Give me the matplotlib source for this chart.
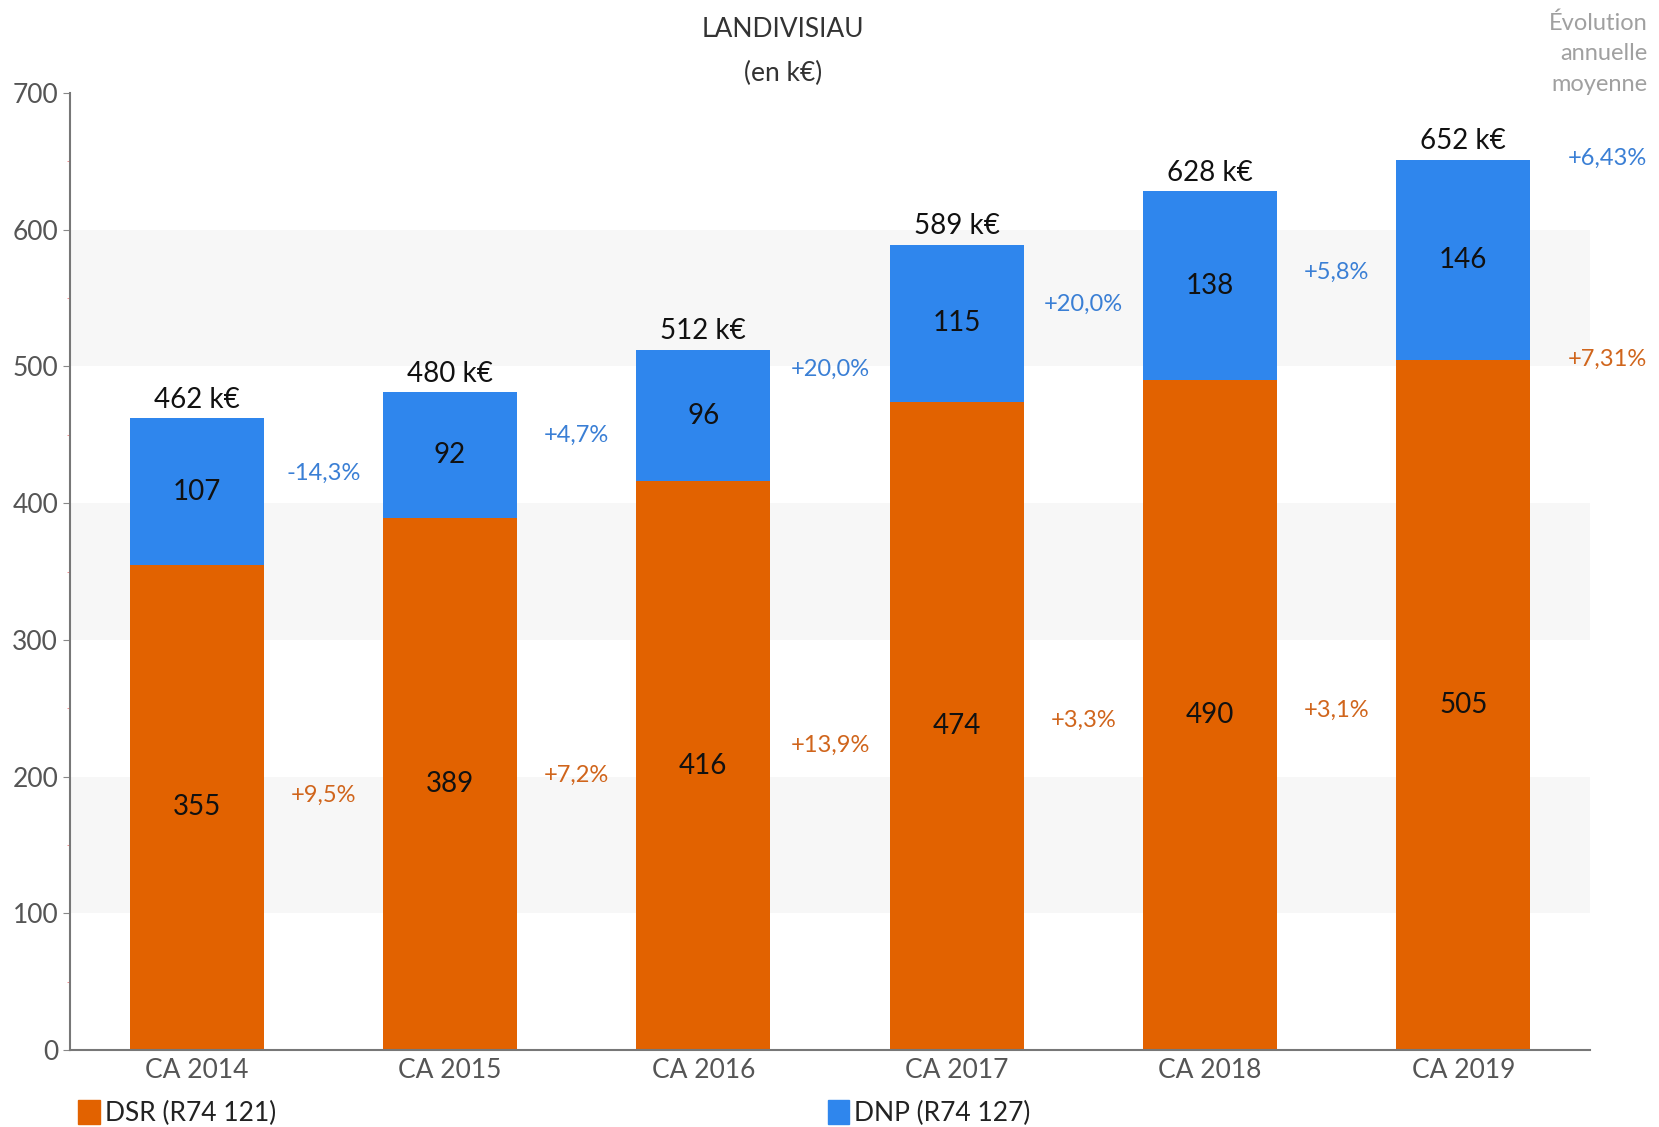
import matplotlib
matplotlib.use('Agg')
import matplotlib.pyplot as plt
from matplotlib.patches import Patch
from matplotlib.ticker import MultipleLocator
import numpy as np

# donnees (en k€)
categories = ['CA 2014', 'CA 2015', 'CA 2016', 'CA 2017', 'CA 2018', 'CA 2019']
dsr = [355, 389, 416, 474, 490, 505]
dnp = [107, 92, 96, 115, 138, 146]
totals = [462, 480, 512, 589, 628, 652]
evo_dnp = ['-14,3%', '+4,7%', '+20,0%', '+20,0%', '+5,8%']
evo_dsr = ['+9,5%', '+7,2%', '+13,9%', '+3,3%', '+3,1%']
moy_dnp = '+6,43%'
moy_dsr = '+7,31%'

orange = '#e26200'
blue = '#2f86ed'
txt_blue = '#3a7fd5'
txt_orange = '#d0651c'

plt.rcParams['font.family'] = ['Lato', 'DejaVu Sans']

fig = plt.figure(figsize=(16.59, 11.27), dpi=100)
ax = fig.add_axes([0.0422, 0.0683, 0.9162, 0.8492])

x = np.arange(len(categories))
w = 0.53

# bandes grises
for lo in (100, 300, 500):
    ax.axhspan(lo, lo + 100, color='#f7f7f7', zorder=0, lw=0)

ax.bar(x, dsr, w, color=orange, zorder=2, label='DSR (R74 121)')
ax.bar(x, dnp, w, bottom=dsr, color=blue, zorder=2, label='DNP (R74 127)')

for i in range(len(categories)):
    ax.text(x[i], dsr[i] / 2, str(dsr[i]), ha='center', va='center', fontsize=20, color='#111')
    ax.text(x[i], dsr[i] + dnp[i] / 2, str(dnp[i]), ha='center', va='center', fontsize=20, color='#111')
    ax.annotate(f'{totals[i]} k€', (x[i], dsr[i] + dnp[i]), xytext=(0, 4),
                textcoords='offset points', ha='center', va='bottom', fontsize=20, color='#111')

# evolutions entre annees
for i in range(len(categories) - 1):
    y_dnp = (dsr[i] + dnp[i] / 2 + dsr[i + 1] + dnp[i + 1] / 2) / 2
    y_dsr = (dsr[i] / 2 + dsr[i + 1] / 2) / 2
    ax.text(x[i] + 0.5, y_dnp, evo_dnp[i], ha='center', va='center', fontsize=17, color=txt_blue)
    ax.text(x[i] + 0.5, y_dsr, evo_dsr[i], ha='center', va='center', fontsize=17, color=txt_orange)

# evolution annuelle moyenne
ax.annotate(moy_dnp, (0.993, totals[-1]), xycoords=('figure fraction', 'data'), ha='right',
            va='center', fontsize=17, color=txt_blue, annotation_clip=False)
ax.annotate(moy_dsr, (0.993, dsr[-1]), xycoords=('figure fraction', 'data'), ha='right',
            va='center', fontsize=17, color=txt_orange, annotation_clip=False)
fig.text(0.993, 0.989, 'Évolution\nannuelle\nmoyenne', ha='right', va='top', fontsize=17,
         color='#a0a0a0', linespacing=1.55)

fig.text(0.472, 0.985, 'LANDIVISIAU', ha='center', va='top', fontsize=19, color='#333')
fig.text(0.472, 0.946, '(en k€)', ha='center', va='top', fontsize=19, color='#333')

ax.set_xlim(-0.5, 5.5)
ax.set_ylim(0, 700)
ax.set_xticks(x)
ax.set_xticklabels(categories, fontsize=19, color='#555')
ax.yaxis.set_major_locator(MultipleLocator(100))
ax.yaxis.set_minor_locator(MultipleLocator(50))
ax.tick_params(axis='y', labelsize=19, labelcolor='#555', color='#888', length=5)
ax.tick_params(axis='y', which='minor', color='#f08080', length=2)
ax.tick_params(axis='x', length=0, pad=6)
for s in ('top', 'right'):
    ax.spines[s].set_visible(False)
for s in ('left', 'bottom'):
    ax.spines[s].set_color('#777')
    ax.spines[s].set_linewidth(1.5)

handles = [Patch(color=orange, label='DSR (R74 121)'), Patch(color=blue, label='DNP (R74 127)')]
fig.legend(handles=handles, loc='lower left', bbox_to_anchor=(0.033, -0.02), ncol=2, frameon=False,
           fontsize=19, handlelength=0.8, handleheight=1.0, handletextpad=0.2, columnspacing=20.9,
           labelcolor='#222')

fig.savefig('out.png', dpi=100)
